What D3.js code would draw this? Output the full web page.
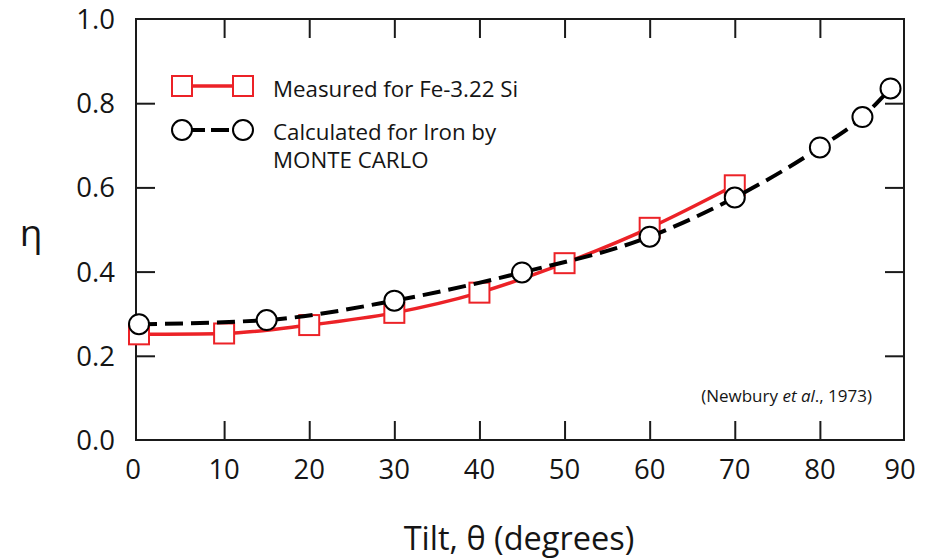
<!DOCTYPE html>
<html>
<head>
<meta charset="utf-8">
<script src="https://cdn.jsdelivr.net/npm/d3@7"></script>
<style>
	body { margin: 0; background: #fff; }
	text { font-family: "Open Sans", "Noto Sans", sans-serif; fill: #151515; }
</style>
</head>
<body>
<div id="chart"></div>
<script>
// measured points, Fe-3.22 Si
var measuredTilt = [0, 10, 20, 30, 40, 50, 60, 70];
var measuredEta = [0.251, 0.253, 0.273, 0.302, 0.350, 0.420, 0.504, 0.605];

// Monte Carlo for iron
var calcTilt = [0, 15, 30, 45, 60, 70, 80, 85, 88.3];
var calcEta = [0.275, 0.285, 0.331, 0.398, 0.483, 0.576, 0.695, 0.767, 0.835];

var xTicks = [0, 10, 20, 30, 40, 50, 60, 70, 80, 90];
var yTicks = [0, 0.2, 0.4, 0.6, 0.8, 1.0];

var legendLabels = ["Measured for Fe-3.22 Si", "Calculated for Iron by", "MONTE CARLO"];
var citation = ["(Newbury ", "et al", "., 1973)"];

var RED = "#ec2227";

var width = 929;
var height = 559;
var frame = {left: 136, right: 904, top: 19, bottom: 440};

var svg = d3.select("#chart").append("svg")
		.attr("width", width).attr("height", height);

var x = d3.scaleLinear().domain([0, 90]).range([139, 905]);
var y = d3.scaleLinear().domain([0, 1]).range([440, 19]);

// box round the plot
svg.append("rect")
	.attr("x", frame.left).attr("y", frame.top)
	.attr("width", frame.right - frame.left)
	.attr("height", frame.bottom - frame.top)
	.attr("fill", "none").attr("stroke", "#1a1a1a").attr("stroke-width", 2);

// ticks point inward on all four sides
var tickLen = 19;
var innerX = xTicks.filter(function(d) { return d > 0 && d < 90; });
var innerY = yTicks.filter(function(d) { return d > 0 && d < 1; });

svg.append("g").attr("transform", "translate(0," + frame.bottom + ")")
	.call(d3.axisBottom(x).tickValues(innerX).tickSizeInner(-tickLen).tickSizeOuter(0).tickFormat(""))
	.call(function(g) { g.select(".domain").remove(); });
svg.append("g").attr("transform", "translate(0," + frame.top + ")")
	.call(d3.axisTop(x).tickValues(innerX).tickSizeInner(-tickLen).tickSizeOuter(0).tickFormat(""))
	.call(function(g) { g.select(".domain").remove(); });
svg.append("g").attr("transform", "translate(" + frame.left + ",0)")
	.call(d3.axisLeft(y).tickValues(innerY).tickSizeInner(-tickLen).tickSizeOuter(0).tickFormat(""))
	.call(function(g) { g.select(".domain").remove(); });
svg.append("g").attr("transform", "translate(" + frame.right + ",0)")
	.call(d3.axisRight(y).tickValues(innerY).tickSizeInner(-tickLen).tickSizeOuter(0).tickFormat(""))
	.call(function(g) { g.select(".domain").remove(); });

svg.selectAll(".tick line").attr("stroke", "#1a1a1a").attr("stroke-width", 2);

// tick labels
svg.append("g").selectAll("text")
	.data(xTicks)
	.enter().append("text")
		.attr("x", function(d) { return x(d) - (d === 0 ? 6 : (d === 90 ? 5 : 0)); })
		.attr("y", 479)
		.attr("text-anchor", "middle")
		.attr("font-size", 27.5)
		.text(function(d) { return d; });

svg.append("g").selectAll("text")
	.data(yTicks)
	.enter().append("text")
		.attr("x", 115)
		.attr("y", function(d) { return y(d) + 10; })
		.attr("text-anchor", "end")
		.attr("font-size", 27.5)
		.text(function(d) { return d3.format(".1f")(d); });

svg.append("text")
	.attr("x", 519).attr("y", 550)
	.attr("text-anchor", "middle")
	.attr("font-size", 32.5)
	.text("Tilt, θ (degrees)");

svg.append("text")
	.attr("x", 31).attr("y", 246)
	.attr("text-anchor", "middle")
	.attr("font-size", 37)
	.text("η");

var cite = svg.append("text")
	.attr("x", 872).attr("y", 402)
	.attr("text-anchor", "end")
	.attr("font-size", 17);
cite.selectAll("tspan")
	.data(citation)
	.enter().append("tspan")
		.attr("font-style", function(d, i) { return i === 1 ? "italic" : "normal"; })
		.text(function(d) { return d; });

// curves
var measured = measuredTilt.map(function(d, i) { return [d, measuredEta[i]]; });
var calc = calcTilt.map(function(d, i) { return [d, calcEta[i]]; });

var line = d3.line()
	.x(function(d) { return x(d[0]); })
	.y(function(d) { return y(d[1]); })
	.curve(d3.curveMonotoneX);

svg.append("path")
	.attr("d", line(measured))
	.attr("fill", "none").attr("stroke", RED).attr("stroke-width", 3.5);

svg.append("g").selectAll("rect")
	.data(measured)
	.enter().append("rect")
		.attr("x", function(d) { return x(d[0]) - 10; })
		.attr("y", function(d) { return y(d[1]) - 10; })
		.attr("width", 20).attr("height", 20)
		.attr("fill", "#fff").attr("stroke", RED).attr("stroke-width", 2);

svg.append("path")
	.attr("d", line(calc))
	.attr("fill", "none").attr("stroke", "#000").attr("stroke-width", 4)
	.attr("stroke-dasharray", "18,8");

svg.append("g").selectAll("circle")
	.data(calc)
	.enter().append("circle")
		.attr("cx", function(d) { return x(d[0]); })
		.attr("cy", function(d) { return y(d[1]); })
		.attr("r", 10)
		.attr("fill", "#fff").attr("stroke", "#000").attr("stroke-width", 2);

// legend
var lg = svg.append("g");
lg.append("line")
	.attr("x1", 182).attr("x2", 243).attr("y1", 86).attr("y2", 86)
	.attr("stroke", RED).attr("stroke-width", 3.5);
[182, 243].forEach(function(cx) {
	lg.append("rect")
		.attr("x", cx - 10).attr("y", 76).attr("width", 20).attr("height", 20)
		.attr("fill", "#fff").attr("stroke", RED).attr("stroke-width", 2);
});
lg.append("line")
	.attr("x1", 182).attr("x2", 243).attr("y1", 130).attr("y2", 130)
	.attr("stroke", "#000").attr("stroke-width", 4)
	.attr("stroke-dasharray", "23,6,18,6");
[182, 243].forEach(function(cx) {
	lg.append("circle")
		.attr("cx", cx).attr("cy", 130).attr("r", 10)
		.attr("fill", "#fff").attr("stroke", "#000").attr("stroke-width", 2);
});
lg.selectAll("text.lab")
	.data(legendLabels)
	.enter().append("text")
		.attr("class", "lab")
		.attr("x", 273)
		.attr("y", function(d, i) { return [97, 140, 168][i]; })
		.attr("font-size", 22.3)
		.text(function(d) { return d; });
</script>
</body>
</html>
